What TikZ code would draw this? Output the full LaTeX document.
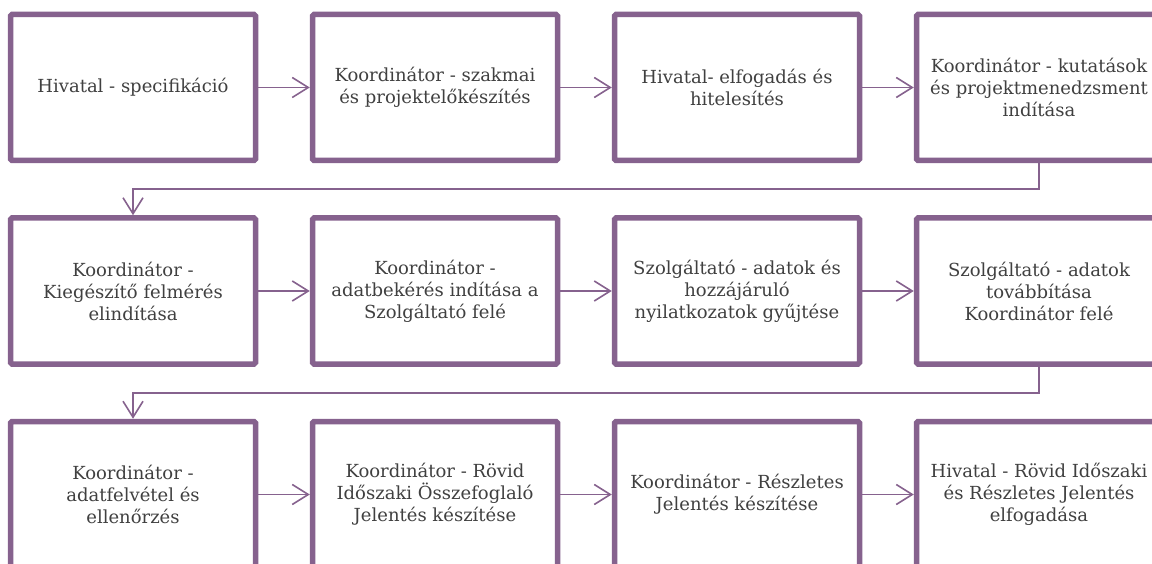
\documentclass[tikz,border=0pt]{standalone}
\usepackage{fontspec}
\setmainfont{DejaVu Serif}
\usetikzlibrary{arrows.meta}
\definecolor{boxpurple}{HTML}{86628E}
\definecolor{txtgray}{HTML}{404040}
\tikzset{
  stepbox/.style={draw=boxpurple, line width=5.5pt, rounded corners=1.5pt, fill=white,
    minimum width=245pt, minimum height=146pt, inner sep=0pt, align=center,
    text=txtgray, font=\fontsize{18}{22}\selectfont},
  arr/.style={draw=boxpurple, line width=1.6pt,
    -{Straight Barb[length=16pt,width=20pt,line width=1.6pt]}}
}
\begin{document}
\begin{tikzpicture}[x=1pt,y=-1pt]
\useasboundingbox (0,0) rectangle (1152,564);
% row 1
\node[stepbox] (b1) at (133,87.5) {Hivatal - specifikáció};
\node[stepbox] (b2) at (435,87.5) {Koordinátor - szakmai\\és projektelőkészítés};
\node[stepbox] (b3) at (737,87.5) {Hivatal- elfogadás és\\hitelesítés};
\node[stepbox] (b4) at (1039,87.5) {Koordinátor - kutatások\\és projektmenedzsment\\indítása};
% row 2
\node[stepbox] (b5) at (133,291) {Koordinátor -\\Kiegészítő felmérés\\elindítása};
\node[stepbox] (b6) at (435,291) {Koordinátor -\\adatbekérés indítása a\\Szolgáltató felé};
\node[stepbox] (b7) at (737,291) {Szolgáltató - adatok és\\hozzájáruló\\nyilatkozatok gyűjtése};
\node[stepbox] (b8) at (1039,291) {Szolgáltató - adatok\\továbbítása\\Koordinátor felé};
% row 3
\node[stepbox] (b9) at (133,494.5) {Koordinátor -\\adatfelvétel és\\ellenőrzés};
\node[stepbox] (b10) at (435,494.5) {Koordinátor - Rövid\\Időszaki Összefoglaló\\Jelentés készítése};
\node[stepbox] (b11) at (737,494.5) {Koordinátor - Részletes\\Jelentés készítése};
\node[stepbox] (b12) at (1039,494.5) {Hivatal - Rövid Időszaki\\és Részletes Jelentés\\elfogadása};
% connectors
\draw[arr] (b1) -- (b2);
\draw[arr] (b2) -- (b3);
\draw[arr] (b3) -- (b4);
\draw[arr] (b5) -- (b6);
\draw[arr] (b6) -- (b7);
\draw[arr] (b7) -- (b8);
\draw[arr] (b9) -- (b10);
\draw[arr] (b10) -- (b11);
\draw[arr] (b11) -- (b12);
\draw[arr] (b4.south) -- ++(0,26) -| (b5.north);
\draw[arr] (b8.south) -- ++(0,26) -| (b9.north);
\end{tikzpicture}
\end{document}
